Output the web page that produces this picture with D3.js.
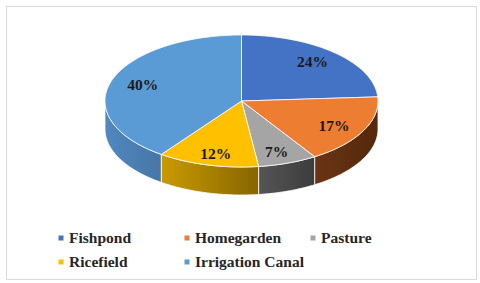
<!DOCTYPE html>
<html>
<head>
<meta charset="utf-8">
<script src="https://cdn.jsdelivr.net/npm/d3@7"></script>
<style>
  body { margin: 0; background: #fff; }
  svg { display: block; }
</style>
</head>
<body>
<div class="chart"></div>
<script>
// data
var categories = ["Fishpond", "Homegarden", "Pasture", "Ricefield", "Irrigation Canal"];
var shares = [24, 17, 7, 12, 40];
var labels = ["24%", "17%", "7%", "12%", "40%"];
var topColors = ["#4472c4", "#ed7d31", "#a5a5a5", "#ffc000", "#5b9bd5"];
var sideFrom = ["#3a62a8", "#6a3414", "#555555", "#c99a00", "#5088c0"];
var sideTo = ["#2f4f88", "#55280c", "#3c3c3c", "#866600", "#4676a6"];

var width = 480, height = 283;
var cx = 241.5, cy = 101, rx = 136.5, ry = 66, depth = 28;

var svg = d3.select(".chart").append("svg").attr("width", width).attr("height", height);

svg.append("rect").attr("x", 6.5).attr("y", 6.5).attr("width", 470).attr("height", 273)
  .attr("fill", "#fff").attr("stroke", "#d9d9d9").attr("stroke-width", 1);

var defs = svg.append("defs");
categories.forEach(function(c, i) {
  var g = defs.append("linearGradient").attr("id", "side" + i)
    .attr("x1", "0%").attr("x2", "100%").attr("y1", "0%").attr("y2", "0%");
  g.append("stop").attr("offset", "0%").attr("stop-color", sideFrom[i]);
  g.append("stop").attr("offset", "100%").attr("stop-color", sideTo[i]);
});

var pie = d3.pie().sort(null).value(function(d) { return d; });
var arcs = pie(shares);

// angle measured clockwise from 12 o'clock
var px = function(a) { return cx + rx * Math.sin(a); };
var py = function(a, dz) { return cy - ry * Math.cos(a) + (dz || 0); };

var sample = function(a0, a1) {
  var n = Math.max(2, Math.ceil(Math.abs(a1 - a0) / 0.02));
  return d3.range(n + 1).map(function(k) { return a0 + (a1 - a0) * k / n; });
};

var line = d3.line();

// side walls (only the front half is visible)
arcs.forEach(function(d, i) {
  var a0 = Math.max(d.startAngle, Math.PI / 2);
  var a1 = Math.min(d.endAngle, Math.PI * 1.5);
  if (a1 <= a0) return;
  var topPts = sample(a0, a1).map(function(a) { return [px(a), py(a)]; });
  var botPts = sample(a1, a0).map(function(a) { return [px(a), py(a, depth)]; });
  svg.append("path")
    .attr("d", line(topPts.concat(botPts)) + "Z")
    .attr("fill", "url(#side" + i + ")")
    .attr("stroke", "#fff").attr("stroke-width", 0.8).attr("stroke-linejoin", "round");
});

// top slices
arcs.forEach(function(d, i) {
  var pts = [[cx, cy]].concat(sample(d.startAngle, d.endAngle).map(function(a) { return [px(a), py(a)]; }));
  svg.append("path")
    .attr("d", line(pts) + "Z")
    .attr("fill", topColors[i])
    .attr("stroke", "#fff").attr("stroke-width", 0.8).attr("stroke-linejoin", "round");
});

// data labels
arcs.forEach(function(d, i) {
  var m = (d.startAngle + d.endAngle) / 2;
  svg.append("text")
    .attr("x", cx + rx * 0.76 * Math.sin(m))
    .attr("y", cy - ry * 0.82 * Math.cos(m))
    .attr("dy", "0.35em")
    .attr("text-anchor", "middle")
    .attr("font-family", "'Liberation Serif', 'Times New Roman', serif")
    .attr("font-weight", "bold")
    .attr("font-size", 15.5)
    .attr("fill", "#1a1a1a")
    .text(labels[i]);
});

// legend
var legendX = [61, 187, 313];
var legendY = [238, 262];
var legend = svg.selectAll(".legend-item").data(categories).enter().append("g")
  .attr("class", "legend-item")
  .attr("transform", function(d, i) {
    return "translate(" + legendX[i % 3] + "," + legendY[Math.floor(i / 3)] + ")";
  });
legend.append("rect").attr("x", -2.5).attr("y", -2.5).attr("width", 5).attr("height", 5)
  .attr("fill", function(d, i) { return topColors[i]; });
legend.append("text").attr("x", 8).attr("dy", "0.35em")
  .attr("font-family", "'Liberation Serif', 'Times New Roman', serif")
  .attr("font-weight", "bold").attr("font-size", 15.5).attr("fill", "#262626")
  .text(function(d) { return d; });
</script>
</body>
</html>
